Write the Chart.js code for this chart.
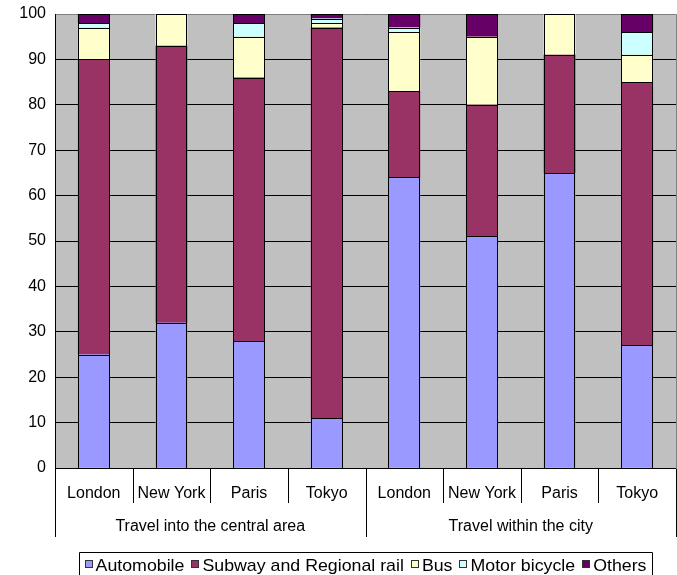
<!DOCTYPE html>
<html>
<head>
<meta charset="utf-8">
<script src="https://cdn.jsdelivr.net/npm/chart.js@4/dist/chart.umd.min.js"></script>
<style>
  html, body { margin: 0; padding: 0; background: #ffffff; }
  #wrap { width: 677px; height: 575px; }
</style>
</head>
<body>
<div id="wrap"><canvas id="c" width="677" height="575"></canvas></div>
<script>
// Modal share (%) by city, for two kinds of trips
const cities = ['London', 'New York', 'Paris', 'Tokyo', 'London', 'New York', 'Paris', 'Tokyo'];
const groups = ['Travel into the central area', 'Travel within the city'];
const citiesPerGroup = 4;

const automobile   = [25, 32, 28, 11, 64, 51, 65, 27];
const subwayRail   = [65, 61, 58, 86, 19, 29, 26, 58];
const bus          = [7, 7, 9, 1, 13, 15, 9, 6];
const motorBicycle = [1, 0, 3, 1, 1, 0, 0, 5];
const others       = [2, 0, 2, 1, 3, 5, 0, 4];

const yMin = 0, yMax = 100, yStep = 10;

const FONT = "'Liberation Sans', Arial, sans-serif";
Chart.defaults.font.family = FONT;
Chart.defaults.color = '#000000';

function series(label, data, color) {
  return {
    label, data,
    backgroundColor: color,
    borderWidth: 0,
    inflateAmount: 0,
    barPercentage: 0.41,
    categoryPercentage: 1.0
  };
}

// Grey plot background, crisp black bar outlines, two-level category axis and boxed legend
const framePlugin = {
  id: 'frame',
  beforeDraw(chart) {
    const { ctx, chartArea: a } = chart;
    ctx.save();
    ctx.fillStyle = '#C0C0C0';
    ctx.fillRect(a.left, a.top, a.right - a.left, a.bottom - a.top);
    ctx.restore();
  },
  beforeDatasetsDraw(chart) {
    const { ctx, chartArea: a } = chart;
    ctx.save();
    ctx.strokeStyle = '#808080';
    ctx.lineWidth = 1;
    ctx.beginPath();
    ctx.moveTo(a.left + 1, Math.round(a.top) + 0.5);
    ctx.lineTo(Math.round(a.right) + 0.5, Math.round(a.top) + 0.5);
    ctx.lineTo(Math.round(a.right) + 0.5, a.bottom);
    ctx.stroke();
    ctx.restore();
  },
  afterDatasetsDraw(chart) {
    const { ctx } = chart;
    ctx.save();
    ctx.strokeStyle = '#000000';
    ctx.lineWidth = 1;
    chart.data.datasets.forEach((d, di) => {
      chart.getDatasetMeta(di).data.forEach(el => {
        const l = Math.round(el.x - el.width / 2) + 0.5;
        const r = Math.round(el.x + el.width / 2) - 0.5;
        const t = Math.round(Math.min(el.y, el.base)) + 0.5;
        const b = Math.round(Math.max(el.y, el.base)) + 0.5;
        ctx.strokeRect(l, t, r - l, b - t);
      });
    });
    ctx.restore();
  },
  afterDraw(chart) {
    const { ctx, chartArea: a } = chart;
    const x = chart.scales.x;
    const n = cities.length;
    const step = (a.right - a.left) / n;
    const yb = Math.round(a.bottom) + 0.5;

    ctx.save();
    ctx.strokeStyle = '#000000';
    ctx.lineWidth = 1;

    // category separators (short) and group separators (long)
    for (let i = 0; i <= n; i++) {
      const px = (i < n ? x.getPixelForValue(i) - step / 2 : x.getPixelForValue(n - 1) + step / 2);
      const sx = Math.round(px) + 0.5;
      const isGroupEdge = i % citiesPerGroup === 0;
      ctx.beginPath();
      ctx.moveTo(sx, yb);
      ctx.lineTo(sx, isGroupEdge ? 537 : 503);
      ctx.stroke();
    }

    // city labels
    ctx.fillStyle = '#000000';
    ctx.textAlign = 'center';
    ctx.textBaseline = 'alphabetic';
    ctx.font = '16px ' + FONT;
    cities.forEach((c, i) => ctx.fillText(c, x.getPixelForValue(i), 498));

    // group labels
    groups.forEach((g, gi) => {
      const first = x.getPixelForValue(gi * citiesPerGroup);
      const last = x.getPixelForValue(gi * citiesPerGroup + citiesPerGroup - 1);
      ctx.fillText(g, (first + last) / 2, 531);
    });

    // legend
    ctx.font = '17px ' + FONT;
    const stretch = 1.045;
    const sq = 8, sqGap = 3, itemGap = 7, pad = 6;
    const items = chart.data.datasets.map(d => ({
      label: d.label, color: d.backgroundColor, w: ctx.measureText(d.label).width * stretch
    }));
    const total = items.reduce((s, it) => s + sq + sqGap + it.w, 0) + itemGap * (items.length - 1);
    const cx = (a.left + a.right) / 2;
    const boxL = Math.round(cx - total / 2 - pad) + 0.5;
    const boxR = Math.round(cx + total / 2 + pad) + 0.5;
    const boxT = 552.5;
    ctx.strokeStyle = '#000000';
    ctx.beginPath();
    ctx.moveTo(boxL, 580);
    ctx.lineTo(boxL, boxT);
    ctx.lineTo(boxR, boxT);
    ctx.lineTo(boxR, 580);
    ctx.stroke();

    let lx = cx - total / 2;
    ctx.textAlign = 'left';
    items.forEach(it => {
      const sx = Math.round(lx);
      ctx.fillStyle = it.color;
      ctx.fillRect(sx, 560, sq, sq);
      ctx.strokeStyle = '#333333';
      ctx.strokeRect(sx + 0.5, 560.5, sq - 1, sq - 1);
      ctx.fillStyle = '#000000';
      ctx.save();
      ctx.translate(lx + sq + sqGap, 571);
      ctx.scale(stretch, 1);
      ctx.fillText(it.label, 0, 0);
      ctx.restore();
      lx += sq + sqGap + it.w + itemGap;
    });
    ctx.restore();
  }
};

new Chart(document.getElementById('c'), {
  type: 'bar',
  data: {
    labels: cities,
    datasets: [
      series('Automobile', automobile, '#9999FF'),
      series('Subway and Regional rail', subwayRail, '#993366'),
      series('Bus', bus, '#FFFFCC'),
      series('Motor bicycle', motorBicycle, '#CCFFFF'),
      series('Others', others, '#660066')
    ]
  },
  options: {
    responsive: false,
    animation: false,
    devicePixelRatio: 1,
    layout: { autoPadding: false, padding: { top: 14, right: 1, bottom: 107, left: 0 } },
    plugins: {
      legend: { display: false },
      tooltip: { enabled: false }
    },
    scales: {
      x: {
        stacked: true,
        display: false,
        offset: true
      },
      y: {
        stacked: true,
        min: yMin,
        max: yMax,
        ticks: {
          stepSize: yStep,
          padding: 4,
          font: { size: 16 },
          color: '#000000'
        },
        grid: { color: '#000000', lineWidth: 1, drawTicks: true, tickLength: 5, tickColor: 'rgba(0,0,0,0)' },
        border: { display: true, color: '#000000', width: 1 },
        afterFit(scale) { scale.width = 55; }
      }
    }
  },
  plugins: [framePlugin]
});
</script>
</body>
</html>
